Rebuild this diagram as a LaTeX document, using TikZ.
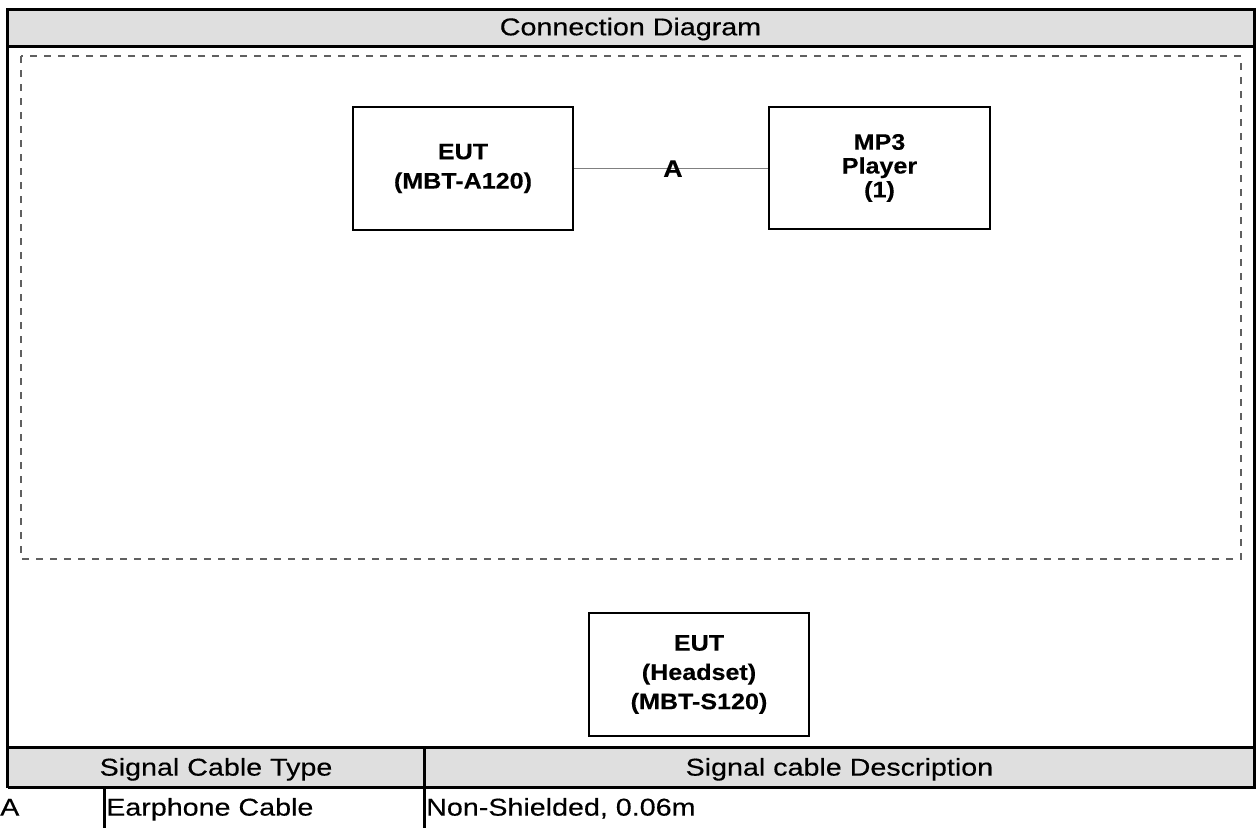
\documentclass[tikz,border=0pt]{standalone}
\usepackage{fontspec}
\setmainfont{Liberation Sans}
\newfontfamily\regf[FakeStretch=1.18,FakeBold=0.35]{Liberation Sans}
\newfontfamily\boldf[FakeStretch=1.12,FakeBold=0.3]{Liberation Sans}
\definecolor{hdrgray}{HTML}{DFDFDF}
\definecolor{dashgray}{HTML}{606060}
\definecolor{cablegray}{HTML}{808080}
\tikzset{
  frameline/.style={line width=3pt, black},
  hdrfill/.style={fill=hdrgray},
  zonebox/.style={draw=dashgray, line width=1.2pt, dash pattern=on 7pt off 7pt},
  devbox/.style={draw=black, line width=2.6pt, minimum width=220pt, align=center, inner sep=0pt},
  devtext/.style={font=\boldf\bfseries\fontsize{22.4}{29.3}\selectfont},
  devtextB/.style={font=\boldf\bfseries\fontsize{22.4}{23.8}\selectfont},
  cable/.style={draw=cablegray, line width=1.3pt},
  cablelabel/.style={font=\boldf\bfseries\fontsize{24}{26}\selectfont, inner sep=0pt},
  plaintext/.style={font=\regf\fontsize{24.3}{28}\selectfont, inner sep=0pt},
}
\begin{document}
\begin{tikzpicture}[x=1pt,y=-1pt]
\useasboundingbox (0,0) rectangle (1256,828);
% fills
\fill[hdrfill] (7.5,9.5) rectangle (1256,46);
\fill[hdrfill] (7.5,747.3) rectangle (1256,787.7);
% frame
\draw[frameline] (7.5,787.7) -- (7.5,9.5) -- (1254.5,9.5) -- (1254.5,787.7);
\draw[frameline] (7.5,46) -- (1256,46);
\draw[frameline] (7.5,747.3) -- (1256,747.3);
\draw[frameline] (7.5,787.7) -- (1256,787.7);
\draw[frameline] (424.3,747.3) -- (424.3,828);
\draw[frameline] (104,787.7) -- (104,828);
% title
\node[plaintext, anchor=base] (title) at (630.5,35.3) {Connection Diagram};
% dashed zone
\draw[zonebox] (21,56) rectangle (1241,559);
% devices
\node[devbox, devtext, minimum height=123pt] (eut) at (463,168.5) {EUT\\(MBT-A120)};
\node[devbox, devtextB, minimum width=221pt, minimum height=122pt] (mp3) at (879.5,168) {MP3\\Player\\(1)};
\node[devbox, devtext, minimum height=123pt] (headset) at (699,674.5) {EUT\\(Headset)\\(MBT-S120)};
% cable
\draw[cable] (eut.east |- 0,168.7) -- (mp3.west |- 0,168.7) node[cablelabel, pos=0.51] (cA) {A};
% table
\node[plaintext, anchor=base] (h1) at (216,775.6) {Signal Cable Type};
\node[plaintext, anchor=base] (h2) at (839.4,775.6) {Signal cable Description};
\node[plaintext, anchor=base west] (r1) at (0,815.6) {A};
\node[plaintext, anchor=base west] (r2) at (106,815.6) {Earphone Cable};
\node[plaintext, anchor=base west] (r3) at (426,815.6) {Non-Shielded, 0.06m};
\end{tikzpicture}
\end{document}
